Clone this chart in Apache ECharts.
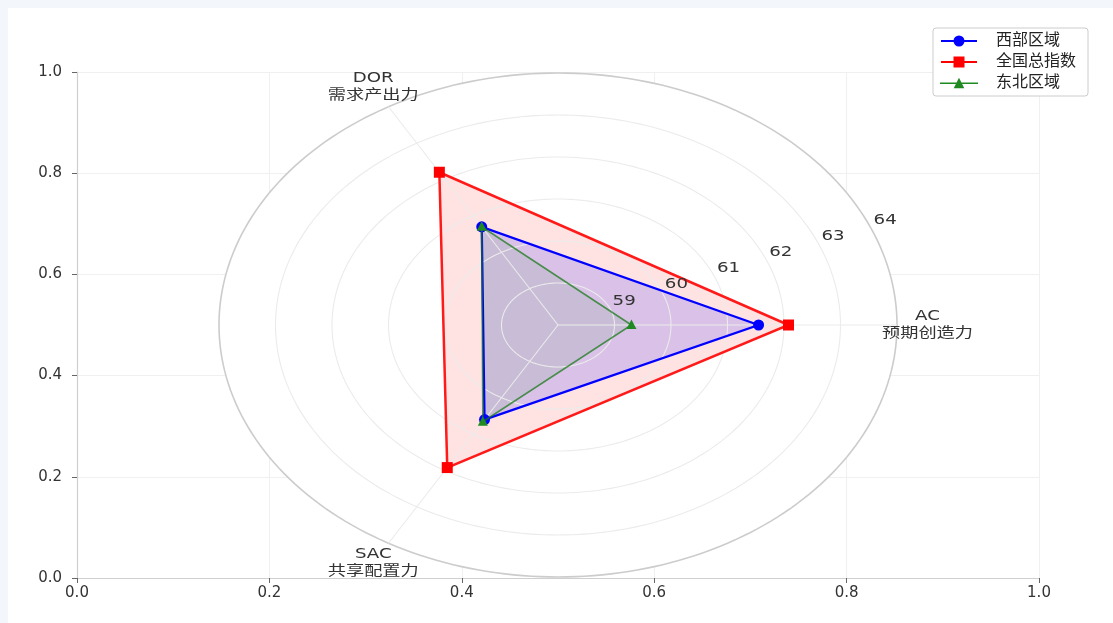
<!DOCTYPE html>
<html>
<head>
<meta charset="utf-8">
<script src="https://cdn.jsdelivr.net/npm/echarts@6/dist/echarts.min.js"></script>
<style>
  html, body { margin: 0; padding: 0; width: 1113px; height: 623px; overflow: hidden; background: #f3f6fa; }
  #chart { position: absolute; left: 8px; top: 8px; width: 1105px; height: 615px; background: #ffffff; }
</style>
</head>
<body>
<div id="chart"></div>
<script>
// Radar dimensions (angle in degrees, counter-clockwise from east)
const dimensionCodes = ['AC', 'DOR', 'SAC'];
const dimensionNames = ['预期创造力', '需求产出力', '共享配置力'];
const dimensionAngles = [0, 120, 240];

// Radial scale
const radialTicks = [59, 60, 61, 62, 63, 64];
const radialMin = 58;
const radialMax = 64;

// Region scores on AC / DOR / SAC
const westValues = [61.55, 60.70, 60.60];
const nationalValues = [62.08, 62.20, 61.92];
const northeastValues = [59.30, 60.70, 60.66];

const seriesNames = ['西部区域', '全国总指数', '东北区域'];

// Polar frame laid over the 0..1 cartesian axes
const CX = 0.5, CY = 0.5, RX = 0.3524, RY = 0.498;
const FONT = '"DejaVu Sans", "Noto Sans CJK SC", sans-serif';
const TEXT_STRETCH = 1.3;

function polarPoint(api, value, angleDeg) {
  const f = (value - radialMin) / (radialMax - radialMin);
  const a = angleDeg * Math.PI / 180;
  return api.coord([CX + RX * f * Math.cos(a), CY + RY * f * Math.sin(a)]);
}

function ringPoints(api, value) {
  const pts = [];
  const n = 240;
  for (let k = 0; k <= n; k++) pts.push(polarPoint(api, value, 360 * k / n));
  return pts;
}

function markerShape(kind, p, size, color) {
  const h = size / 2;
  if (kind === 'square') {
    return { type: 'rect', shape: { x: p[0] - h, y: p[1] - h, width: size, height: size }, style: { fill: color } };
  }
  if (kind === 'circle') {
    return { type: 'circle', shape: { cx: p[0], cy: p[1], r: h }, style: { fill: color } };
  }
  return { type: 'polygon', shape: { points: [[p[0], p[1] - h * 1.1], [p[0] - h, p[1] + h * 0.8], [p[0] + h, p[1] + h * 0.8]] }, style: { fill: color } };
}

// Filled area of a region (drawn beneath the polar grid)
function fillSeries(id, values, fill, z) {
  return {
    id: id, type: 'custom', coordinateSystem: 'cartesian2d', silent: true, z: z,
    data: values.map((v, i) => [i, v]),
    renderItem: function (params, api) {
      if (params.dataIndex !== 0) return null;
      const pts = values.map((v, i) => polarPoint(api, v, dimensionAngles[i]));
      return { type: 'polygon', shape: { points: pts }, style: { fill: fill, stroke: null } };
    }
  };
}

// Outline and markers of a region
function lineSeries(name, values, color, lineColor, lineWidth, marker, markerSize, z) {
  return {
    name: name, type: 'custom', coordinateSystem: 'cartesian2d', silent: true, z: z,
    itemStyle: { color: color },
    data: values.map((v, i) => [i, v]),
    renderItem: function (params, api) {
      const children = [];
      if (params.dataIndex === 0) {
        const pts = values.map((v, i) => polarPoint(api, v, dimensionAngles[i]));
        children.push({ type: 'polygon', shape: { points: pts },
          style: { fill: null, stroke: lineColor, lineWidth: lineWidth, lineJoin: 'miter' } });
      }
      const idx = api.value(0);
      const p = polarPoint(api, api.value(1), dimensionAngles[idx]);
      children.push(markerShape(marker, p, markerSize, color));
      return { type: 'group', children: children };
    }
  };
}

const legendIcons = {
  circle: 'path://M0,4.6 L36,4.6 L36,6.4 L0,6.4 Z M12.5,5.5 A5.5,5.5 0 1 1 23.5,5.5 A5.5,5.5 0 1 1 12.5,5.5 Z',
  square: 'path://M0,4.6 L36,4.6 L36,6.4 L0,6.4 Z M12.5,0 L23.5,0 L23.5,11 L12.5,11 Z',
  triangle: 'path://M0,5.6 L36,5.6 L36,7 L0,7 Z M13,11 L18,1 L23,11 Z'
};

const chart = echarts.init(document.getElementById('chart'), null, { renderer: 'canvas' });

const axisCommon = {
  type: 'value', min: 0, max: 1, interval: 0.2,
  axisLine: { show: true, lineStyle: { color: '#cfcfcf', width: 1.2 } },
  axisTick: { show: true, inside: false, length: 5, lineStyle: { color: '#666' } },
  splitLine: { show: true, lineStyle: { color: '#f0f0f0', width: 1 } }
};

const option = {
  animation: false,
  backgroundColor: '#ffffff',
  textStyle: { fontFamily: FONT },
  grid: { left: 69, right: 74, top: 64, bottom: 45, containLabel: false },
  xAxis: Object.assign({}, axisCommon, {
    axisLabel: { color: '#333', fontSize: 15, margin: 8, fontFamily: FONT, formatter: v => v.toFixed(1) }
  }),
  yAxis: Object.assign({}, axisCommon, {
    axisLabel: { color: '#333', fontSize: 15, margin: 15, fontFamily: FONT, formatter: v => v.toFixed(1) }
  }),
  legend: {
    orient: 'vertical', right: 25, top: 20,
    data: [
      { name: seriesNames[0], icon: legendIcons.circle },
      { name: seriesNames[1], icon: legendIcons.square },
      { name: seriesNames[2], icon: legendIcons.triangle }
    ],
    itemWidth: 38, itemHeight: 11, itemGap: 5,
    padding: [5, 12, 5, 7],
    borderColor: '#cccccc', borderWidth: 1, borderRadius: 3,
    backgroundColor: '#ffffff',
    textStyle: { fontSize: 16, color: '#222', fontFamily: FONT, padding: [0, 0, 0, 13] },
    selectedMode: false
  },
  series: [
    // polar background patch
    {
      id: 'polar-bg', type: 'custom', coordinateSystem: 'cartesian2d', silent: true, z: 2,
      data: [[CX, CY]],
      renderItem: function (params, api) {
        return { type: 'polygon', shape: { points: ringPoints(api, radialMax) }, style: { fill: '#ffffff' } };
      }
    },
    fillSeries('fill-national', nationalValues, 'rgba(255,0,0,0.11)', 3),
    fillSeries('fill-west', westValues, 'rgba(0,0,255,0.15)', 3),
    fillSeries('fill-northeast', northeastValues, 'rgba(0,128,0,0.07)', 3),
    // rings
    {
      id: 'rings', type: 'custom', coordinateSystem: 'cartesian2d', silent: true, z: 4,
      data: radialTicks.map(t => [CX, t]),
      renderItem: function (params, api) {
        const t = api.value(1);
        const outer = t === radialMax;
        return { type: 'polyline', shape: { points: ringPoints(api, t) },
          style: { fill: null, stroke: outer ? '#cccccc' : '#ebebeb', lineWidth: outer ? 1.6 : 1.1 } };
      }
    },
    // spokes
    {
      id: 'spokes', type: 'custom', coordinateSystem: 'cartesian2d', silent: true, z: 4,
      data: dimensionAngles.map(a => [CX, a]),
      renderItem: function (params, api) {
        const a = api.value(1);
        const p0 = polarPoint(api, radialMin, a);
        const p1 = polarPoint(api, radialMax, a);
        return { type: 'line', shape: { x1: p0[0], y1: p0[1], x2: p1[0], y2: p1[1] },
          style: { stroke: '#ebebeb', lineWidth: 1.1 } };
      }
    },
    lineSeries(seriesNames[0], westValues, '#0000ff', '#0000ff', 2.3, 'circle', 11, 5),
    lineSeries(seriesNames[1], nationalValues, '#ff0000', '#ff1a1a', 2.5, 'square', 11, 5),
    lineSeries(seriesNames[2], northeastValues, '#1f8a1f', 'rgba(20,120,20,0.72)', 1.6, 'triangle', 10, 6),
    // radial tick labels
    {
      id: 'radial-labels', type: 'custom', coordinateSystem: 'cartesian2d', silent: true, z: 7,
      data: radialTicks.map(t => [CX, t]),
      renderItem: function (params, api) {
        const t = api.value(1);
        const p = polarPoint(api, t, 22.5);
        return { type: 'text', x: p[0] + 14, y: p[1] - 8, scaleX: TEXT_STRETCH,
          style: { text: String(t), fill: '#333', font: '14px ' + FONT, align: 'center', verticalAlign: 'middle' } };
      }
    },
    // dimension labels
    {
      id: 'dimension-labels', type: 'custom', coordinateSystem: 'cartesian2d', silent: true, z: 7,
      data: dimensionAngles.map((a, i) => [i, a]),
      renderItem: function (params, api) {
        const i = api.value(0);
        const a = api.value(1);
        const f = 1.09;
        const p = polarPoint(api, radialMin + f * (radialMax - radialMin), a);
        return { type: 'text', x: p[0], y: p[1], scaleX: TEXT_STRETCH,
          style: { text: dimensionCodes[i] + '\n' + dimensionNames[i], fill: '#333', font: '14px ' + FONT,
            lineHeight: 17, align: 'center', verticalAlign: 'middle' } };
      }
    }
  ]
};

chart.setOption(option);
</script>
</body>
</html>
